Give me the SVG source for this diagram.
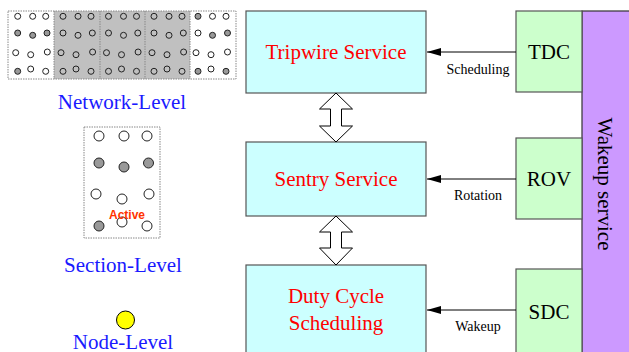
<svg xmlns="http://www.w3.org/2000/svg" width="629" height="352" viewBox="0 0 629 352">
<defs>
<style>
.lvl{font-family:"Liberation Serif",serif;font-size:21px;fill:#1a1aff;text-anchor:middle}
.svc{font-family:"Liberation Serif",serif;font-size:21px;fill:#ff0000;text-anchor:middle}
.blk{font-family:"Liberation Serif",serif;font-size:21px;fill:#000;text-anchor:middle}
.lbl{font-family:"Liberation Serif",serif;font-size:14px;fill:#000;text-anchor:middle}
.box{fill:#ccffff;stroke:#555;stroke-width:1.2}
.gbox{fill:#ccffcc;stroke:#555;stroke-width:1.2}
.dot{fill:none;stroke:#888;stroke-width:1;stroke-dasharray:1.5 1}
.o{fill:#fff;stroke:#222;stroke-width:1}
.og{fill:none;stroke:#222;stroke-width:1}
.f{fill:#999;stroke:#222;stroke-width:1}
.dbl{fill:#fff;stroke:#000;stroke-width:1}
.conn{stroke:#000;stroke-width:1;fill:none;marker-end:url(#ah)}
</style>
<marker id="ah" viewBox="0 0 14 8" refX="14" refY="4" markerWidth="14" markerHeight="8" markerUnits="userSpaceOnUse" orient="auto">
<path d="M0,0 L14,4 L0,8 z" fill="#000"/>
</marker>
</defs>

<g id="network-level">
<rect x="54" y="11" width="136" height="68" fill="#c0c0c0"/>
<rect x="8" y="11" width="228" height="68" class="dot"/>
<line x1="54" y1="11" x2="54" y2="79" class="dot"/>
<line x1="100" y1="11" x2="100" y2="79" class="dot"/>
<line x1="145" y1="11" x2="145" y2="79" class="dot"/>
<line x1="190" y1="11" x2="190" y2="79" class="dot"/>
<!-- column 1 -->
<g>
<circle cx="17.7" cy="16.3" r="3" class="o"/><circle cx="32.7" cy="16.3" r="3" class="o"/><circle cx="45.7" cy="16.3" r="3" class="o"/>
<circle cx="17.7" cy="33" r="3" class="f"/><circle cx="32.7" cy="35.3" r="3" class="f"/><circle cx="47" cy="33" r="3" class="f"/>
<circle cx="15.7" cy="52.7" r="3" class="o"/><circle cx="30.7" cy="54.7" r="3" class="o"/><circle cx="47.3" cy="52" r="3" class="o"/>
<circle cx="17.7" cy="71.3" r="3" class="f"/><circle cx="30.7" cy="69" r="3" class="o"/><circle cx="45.7" cy="71.3" r="3" class="o"/>
</g>
<!-- gray columns -->
<g id="gcol" >
<circle cx="63" cy="16.3" r="3" class="og"/><circle cx="78" cy="16.3" r="3" class="og"/><circle cx="91" cy="16.3" r="3" class="og"/>
<circle cx="63" cy="33" r="3" class="og"/><circle cx="78" cy="35.3" r="3" class="og"/><circle cx="92.3" cy="33" r="3" class="og"/>
<circle cx="61" cy="52.7" r="3" class="og"/><circle cx="76" cy="54.7" r="3" class="og"/><circle cx="92.6" cy="52" r="3" class="og"/>
<circle cx="63" cy="71.3" r="3" class="og"/><circle cx="76" cy="69" r="3" class="og"/><circle cx="91" cy="71.3" r="3" class="og"/>
</g>
<g transform="translate(45.5 0)">
<circle cx="63" cy="16.3" r="3" class="og"/><circle cx="78" cy="16.3" r="3" class="og"/><circle cx="91" cy="16.3" r="3" class="og"/>
<circle cx="63" cy="33" r="3" class="og"/><circle cx="78" cy="35.3" r="3" class="og"/><circle cx="92.3" cy="33" r="3" class="og"/>
<circle cx="61" cy="52.7" r="3" class="og"/><circle cx="76" cy="54.7" r="3" class="og"/><circle cx="92.6" cy="52" r="3" class="og"/>
<circle cx="63" cy="71.3" r="3" class="og"/><circle cx="76" cy="69" r="3" class="og"/><circle cx="91" cy="71.3" r="3" class="og"/>
</g>
<g transform="translate(91 0)">
<circle cx="63" cy="16.3" r="3" class="og"/><circle cx="78" cy="16.3" r="3" class="og"/><circle cx="91" cy="16.3" r="3" class="og"/>
<circle cx="63" cy="33" r="3" class="og"/><circle cx="78" cy="35.3" r="3" class="og"/><circle cx="92.3" cy="33" r="3" class="og"/>
<circle cx="61" cy="52.7" r="3" class="og"/><circle cx="76" cy="54.7" r="3" class="og"/><circle cx="92.6" cy="52" r="3" class="og"/>
<circle cx="63" cy="71.3" r="3" class="og"/><circle cx="76" cy="69" r="3" class="og"/><circle cx="91" cy="71.3" r="3" class="og"/>
</g>
<!-- column 5 -->
<g>
<circle cx="198" cy="16.3" r="3" class="f"/><circle cx="212.5" cy="16.3" r="3" class="o"/><circle cx="226" cy="16.3" r="3" class="o"/>
<circle cx="198" cy="33" r="3" class="o"/><circle cx="212.5" cy="35.3" r="3" class="f"/><circle cx="227.5" cy="33" r="3" class="f"/>
<circle cx="196" cy="52.7" r="3" class="o"/><circle cx="211" cy="54.7" r="3" class="o"/><circle cx="227.5" cy="52" r="3" class="o"/>
<circle cx="198" cy="71.3" r="3" class="f"/><circle cx="211" cy="69" r="3" class="o"/><circle cx="226" cy="71.3" r="3" class="f"/>
</g>
<text x="122" y="109" class="lvl">Network-Level</text>
</g>

<g id="section-level">
<rect x="84" y="127" width="76" height="111" class="dot" fill="none"/>
<circle cx="99" cy="136" r="5" class="o"/><circle cx="124" cy="136" r="5" class="o"/><circle cx="147" cy="136" r="5" class="o"/>
<circle cx="99" cy="163" r="5" class="f"/><circle cx="124" cy="167" r="5" class="f"/><circle cx="148.5" cy="163" r="5" class="f"/>
<circle cx="96" cy="194" r="5" class="o"/><circle cx="122" cy="199" r="5" class="o"/><circle cx="149" cy="194" r="5" class="o"/>
<circle cx="99" cy="226" r="5" class="f"/><circle cx="122" cy="222" r="5" class="o"/><circle cx="147" cy="226" r="5" class="o"/>
<text x="127" y="219" font-family="Liberation Sans, Arial, sans-serif" font-size="12" font-weight="bold" fill="#ff3300" text-anchor="middle">Active</text>
<text x="123" y="272" class="lvl">Section-Level</text>
</g>

<g id="node-level">
<circle cx="125.5" cy="320" r="9" fill="#ffff00" stroke="#000" stroke-width="1"/>
<text x="123" y="349" class="lvl">Node-Level</text>
</g>

<g id="tripwire">
<rect x="246" y="11" width="180" height="82" class="box"/>
<text x="336" y="59" class="svc">Tripwire Service</text>
</g>
<g id="sentry">
<rect x="246" y="142" width="180" height="74" class="box"/>
<text x="336" y="186" class="svc">Sentry Service</text>
</g>
<g id="dutycycle">
<rect x="246" y="265" width="180" height="100" class="box"/>
<text x="336" y="303" class="svc">Duty Cycle</text>
<text x="336" y="330" class="svc">Scheduling</text>
</g>

<g id="wakeup">
<rect x="582" y="11" width="60" height="360" fill="#cc99ff" stroke="#333" stroke-width="1.2"/>
<text transform="translate(598 184) rotate(90)" class="blk" x="0" y="0">Wakeup service</text>
</g>
<g id="tdc">
<rect x="516" y="11" width="66" height="81" class="gbox"/>
<text x="549" y="59" class="blk">TDC</text>
</g>
<g id="rov">
<rect x="516" y="138" width="66" height="81" class="gbox"/>
<text x="549" y="186" class="blk">ROV</text>
</g>
<g id="sdc">
<rect x="516" y="269" width="66" height="100" class="gbox"/>
<text x="549" y="319" class="blk">SDC</text>
</g>

<g id="connectors">
<polygon class="dbl" points="336,93 352.5,109 341.5,109 341.5,126 352.5,126 336,142 319.5,126 330.5,126 330.5,109 319.5,109"/>
<polygon class="dbl" points="336,216 352.5,232 341.5,232 341.5,248 352.5,248 336,265 319.5,248 330.5,248 330.5,232 319.5,232"/>
<line x1="516" y1="52" x2="427" y2="52" class="conn"/>
<line x1="516" y1="179" x2="427" y2="179" class="conn"/>
<line x1="516" y1="310" x2="427" y2="310" class="conn"/>
<text x="478" y="74" class="lbl">Scheduling</text>
<text x="478" y="200" class="lbl">Rotation</text>
<text x="478" y="331" class="lbl">Wakeup</text>
</g>
</svg>
